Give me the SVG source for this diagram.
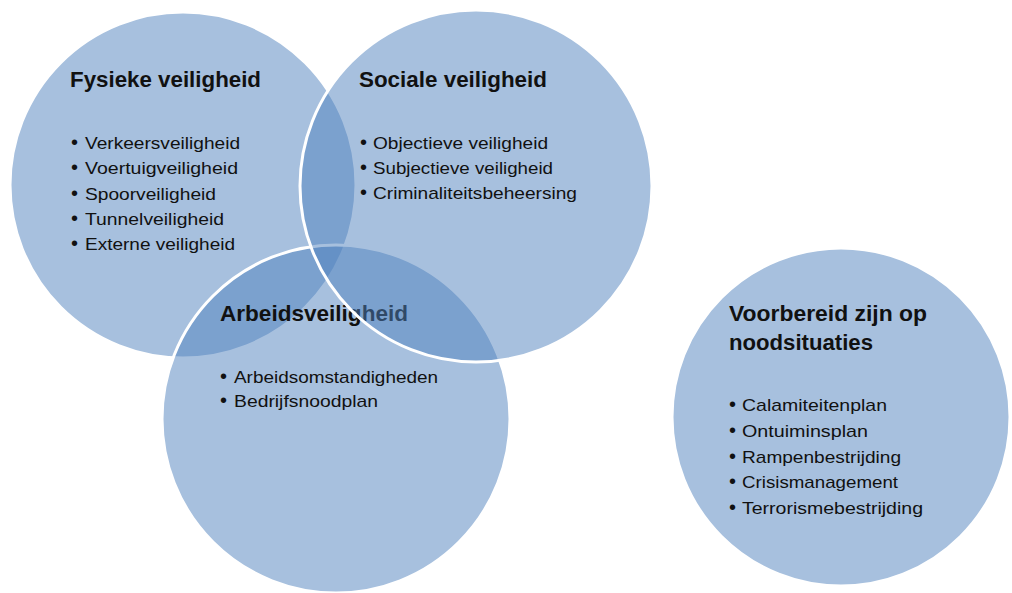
<svg xmlns="http://www.w3.org/2000/svg" width="1012" height="593" viewBox="0 0 1012 593">
<style>
.c{fill:#4F81BD;fill-opacity:0.5;stroke:#fff;stroke-width:3}
.t{font-family:"Liberation Sans",Arial,sans-serif;font-size:22px;font-weight:bold;fill:#111}
.i{font-family:"Liberation Sans",Arial,sans-serif;font-size:17px;fill:#111}
.b{font-size:20px}
</style>
<rect width="1012" height="593" fill="#fff"/>
<g id="fysieke">
<circle class="c" cx="183" cy="185" r="173"/>
<text class="t" x="70" y="87" textLength="191" lengthAdjust="spacingAndGlyphs">Fysieke veiligheid</text>
<text class="i"><tspan class="b" x="71" y="149">•</tspan><tspan x="85" y="149" textLength="155" lengthAdjust="spacingAndGlyphs">Verkeersveiligheid</tspan></text>
<text class="i"><tspan class="b" x="71" y="174">•</tspan><tspan x="85" y="174" textLength="153" lengthAdjust="spacingAndGlyphs">Voertuigveiligheid</tspan></text>
<text class="i"><tspan class="b" x="71" y="199.5">•</tspan><tspan x="85" y="199.5" textLength="131" lengthAdjust="spacingAndGlyphs">Spoorveiligheid</tspan></text>
<text class="i"><tspan class="b" x="71" y="225">•</tspan><tspan x="85" y="225" textLength="139" lengthAdjust="spacingAndGlyphs">Tunnelveiligheid</tspan></text>
<text class="i"><tspan class="b" x="71" y="250">•</tspan><tspan x="85" y="250" textLength="150" lengthAdjust="spacingAndGlyphs">Externe veiligheid</tspan></text>
</g>
<g id="arbeids">
<circle class="c" cx="336" cy="419" r="174"/>
<text class="t" x="220" y="321" textLength="188" lengthAdjust="spacingAndGlyphs">Arbeidsveiligheid</text>
<text class="i"><tspan class="b" x="220" y="383">•</tspan><tspan x="234" y="383" textLength="204" lengthAdjust="spacingAndGlyphs">Arbeidsomstandigheden</tspan></text>
<text class="i"><tspan class="b" x="220" y="407">•</tspan><tspan x="234" y="407" textLength="144" lengthAdjust="spacingAndGlyphs">Bedrijfsnoodplan</tspan></text>
</g>
<g id="sociale">
<circle class="c" cx="476" cy="186" r="176"/>
<text class="t" x="359" y="87" textLength="188" lengthAdjust="spacingAndGlyphs">Sociale veiligheid</text>
<text class="i"><tspan class="b" x="360" y="149">•</tspan><tspan x="373" y="149" textLength="175" lengthAdjust="spacingAndGlyphs">Objectieve veiligheid</tspan></text>
<text class="i"><tspan class="b" x="360" y="174">•</tspan><tspan x="373" y="174" textLength="180" lengthAdjust="spacingAndGlyphs">Subjectieve veiligheid</tspan></text>
<text class="i"><tspan class="b" x="360" y="199">•</tspan><tspan x="373" y="199" textLength="204" lengthAdjust="spacingAndGlyphs">Criminaliteitsbeheersing</tspan></text>
</g>
<g id="voorbereid">
<circle class="c" cx="841" cy="417" r="169"/>
<text class="t" x="729" y="321" textLength="198" lengthAdjust="spacingAndGlyphs">Voorbereid zijn op</text>
<text class="t" x="729" y="350" textLength="144" lengthAdjust="spacingAndGlyphs">noodsituaties</text>
<text class="i"><tspan class="b" x="729" y="411">•</tspan><tspan x="742" y="411" textLength="145" lengthAdjust="spacingAndGlyphs">Calamiteitenplan</tspan></text>
<text class="i"><tspan class="b" x="729" y="437">•</tspan><tspan x="742" y="437" textLength="126" lengthAdjust="spacingAndGlyphs">Ontuiminsplan</tspan></text>
<text class="i"><tspan class="b" x="729" y="462.5">•</tspan><tspan x="742" y="462.5" textLength="159" lengthAdjust="spacingAndGlyphs">Rampenbestrijding</tspan></text>
<text class="i"><tspan class="b" x="729" y="488">•</tspan><tspan x="742" y="488" textLength="156" lengthAdjust="spacingAndGlyphs">Crisismanagement</tspan></text>
<text class="i"><tspan class="b" x="729" y="513.5">•</tspan><tspan x="742" y="513.5" textLength="181" lengthAdjust="spacingAndGlyphs">Terrorismebestrijding</tspan></text>
</g>
<g id="connectors"></g>
</svg>
